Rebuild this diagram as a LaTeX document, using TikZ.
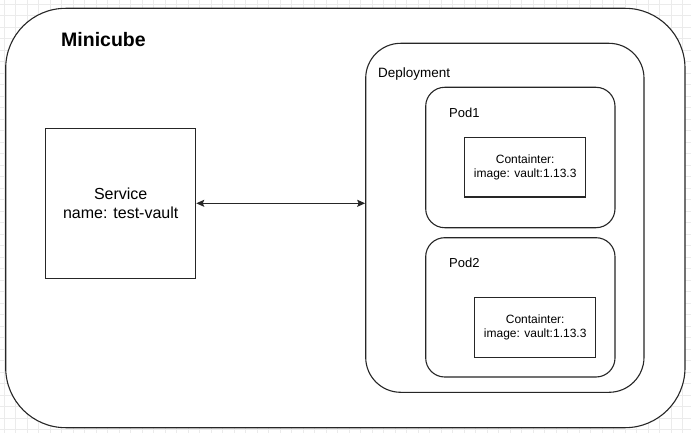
\documentclass[tikz,border=0pt]{standalone}
\usepackage{fontspec}
\setmainfont{Liberation Sans}
\usetikzlibrary{arrows.meta}
\begin{document}
\begin{tikzpicture}[x=1pt,y=-1pt,
  box/.style={draw=black!85,line width=1.1pt,fill=white,rectangle,inner sep=0pt},
  gridline/.style={draw=black!8,line width=0.6pt},
  lbl/.style={anchor=base west,inner sep=0pt},
  conn/.style={draw=black!85,line width=1.1pt,{Stealth[length=8pt,width=7pt,inset=1.5pt]}-{Stealth[length=8pt,width=7pt,inset=1.5pt]}}]
\useasboundingbox (0,0) rectangle (691,433);
\fill[white] (0,0) rectangle (691,433);
\foreach \i in {0,...,60} {\draw[gridline] (4+11.5*\i,0) -- (4+11.5*\i,433);}
\foreach \j in {0,...,38} {\draw[gridline] (0,4+11.5*\j) -- (691,4+11.5*\j);}
\node[box,rounded corners=60pt,minimum width=679.3pt,minimum height=419.4pt] (minicube) at (345.35,218) {};
\node[lbl,font=\bfseries\fontsize{19.5}{23}\selectfont] (mlabel) at (61,47) {Minicube};
\node[box,minimum width=150pt,minimum height=150pt,align=center,font=\fontsize{16}{19}\selectfont] (service) at (120.7,203.3) {Service\\name: test-vault};
\node[box,rounded corners=35pt,minimum width=278.3pt,minimum height=349pt] (deploy) at (504.85,217.8) {};
\node[lbl,font=\fontsize{13.5}{16}\selectfont] (dlabel) at (378,77.5) {Deployment};
\node[box,rounded corners=19pt,minimum width=189.3pt,minimum height=140.4pt] (pod1) at (520.35,157.5) {};
\node[lbl,font=\fontsize{13}{16}\selectfont] (p1label) at (449,118) {Pod1};
\node[box,minimum width=121pt,minimum height=59.5pt,align=center,font=\fontsize{12}{14.5}\selectfont] (cont1) at (525.2,167.2) {Containter:\\image: vault:1.13.3};
\node[box,rounded corners=19pt,minimum width=189.3pt,minimum height=139.3pt] (pod2) at (520.35,307.35) {};
\node[lbl,font=\fontsize{13}{16}\selectfont] (p2label) at (449,267.5) {Pod2};
\node[box,minimum width=121pt,minimum height=60pt,align=center,font=\fontsize{12}{14.5}\selectfont] (cont2) at (535.2,327.3) {Containter:\\image: vault:1.13.3};
\draw[conn] (service.east) -- (service.east -| deploy.west);
\end{tikzpicture}
\end{document}
